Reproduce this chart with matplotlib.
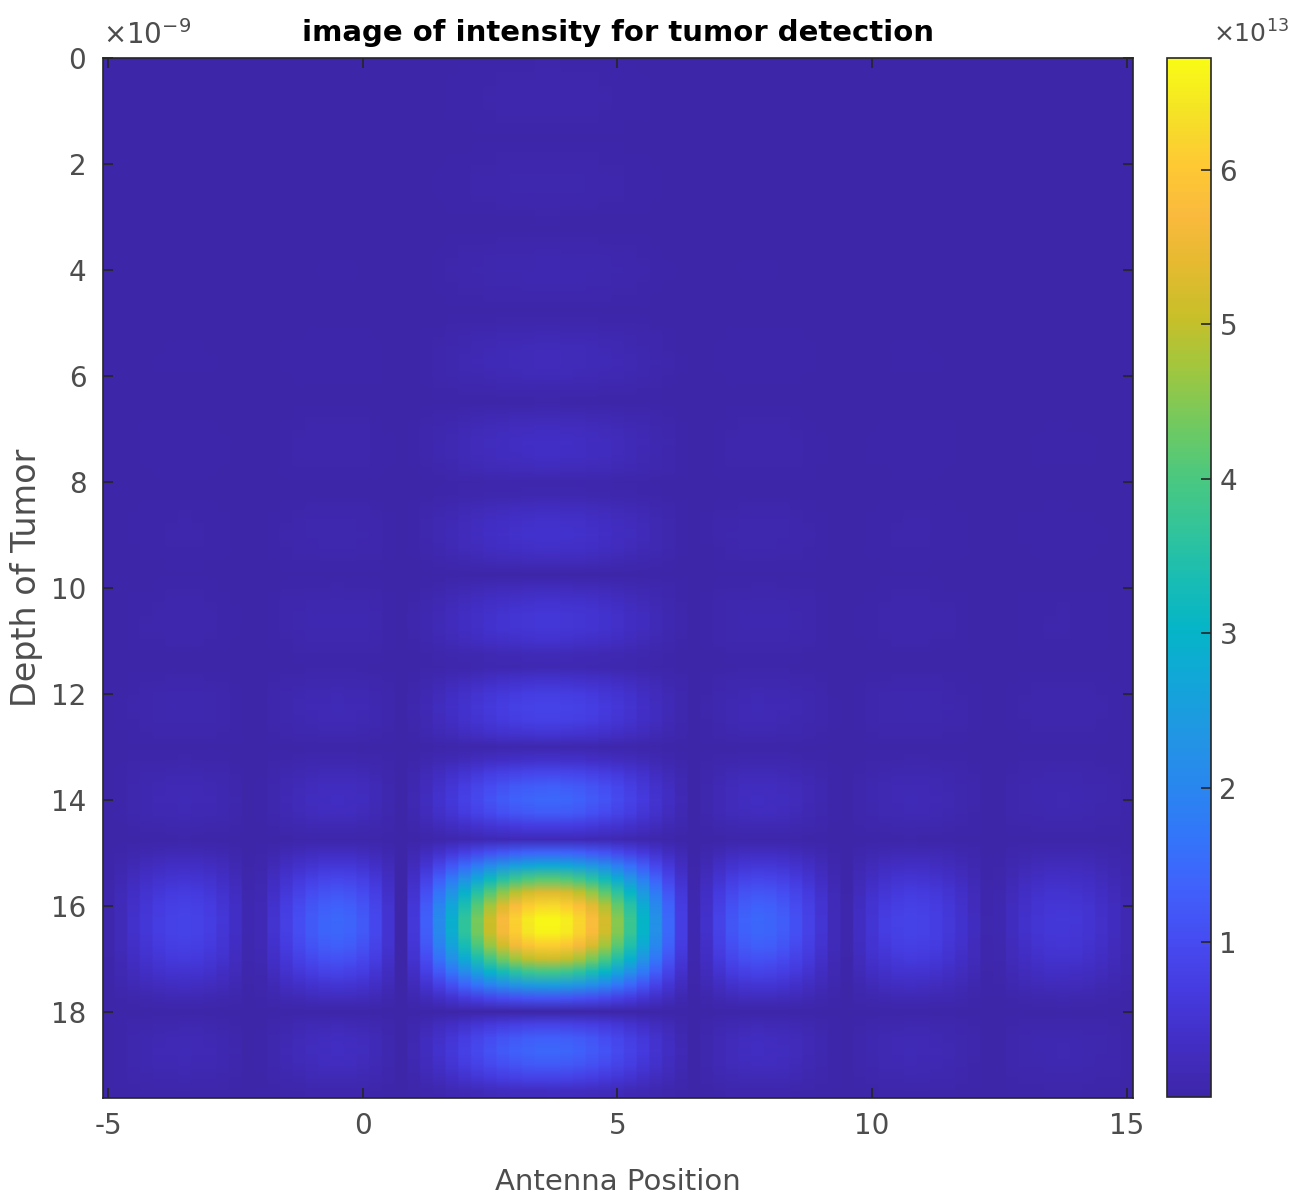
import numpy as np
import matplotlib
matplotlib.use("Agg")
from matplotlib import pyplot as plt
from matplotlib.colors import LinearSegmentedColormap

# antenna positions (one image column every 0.25)
antenna_pos = np.arange(-5, 15.01, 0.25)
# relative intensity across antenna position (read at the tumor depth row)
pos_profile = [0.01, 0.035, 0.064, 0.089, 0.110, 0.123, 0.128, 0.124, 0.110, 0.087,
               0.055, 0.017, 0.026, 0.072, 0.116, 0.156, 0.188, 0.210, 0.217, 0.209,
               0.184, 0.140, 0.078, 0.0, 0.093, 0.198, 0.312, 0.430, 0.547, 0.658,
               0.761, 0.849, 0.919, 0.969, 0.996, 0.998, 0.976, 0.931, 0.864, 0.779,
               0.679, 0.569, 0.453, 0.335, 0.220, 0.113, 0.017, 0.064, 0.126, 0.176,
               0.206, 0.217, 0.212, 0.193, 0.163, 0.124, 0.081, 0.035, 0.009, 0.048,
               0.082, 0.107, 0.122, 0.128, 0.125, 0.113, 0.094, 0.069, 0.041, 0.012,
               0.017, 0.043, 0.064, 0.080, 0.089, 0.091, 0.087, 0.077, 0.062, 0.043,
               0.022]

# depth rows (x1e-9), one every 0.25
depth = np.arange(0, 19.76, 0.25)
# relative intensity across depth (read at the main antenna column)
depth_profile = [0.004, 0.008, 0.010, 0.011, 0.010, 0.006, 0.0, 0.006, 0.010, 0.013,
                 0.013, 0.010, 0.004, 0.003, 0.010, 0.016, 0.019, 0.017, 0.011, 0.002,
                 0.010, 0.024, 0.034, 0.036, 0.029, 0.015, 0.004, 0.026, 0.044, 0.054,
                 0.051, 0.036, 0.011, 0.017, 0.044, 0.063, 0.069, 0.059, 0.034, 0.0,
                 0.037, 0.068, 0.087, 0.088, 0.067, 0.029, 0.021, 0.071, 0.110, 0.128,
                 0.118, 0.079, 0.015, 0.063, 0.139, 0.196, 0.217, 0.189, 0.105, 0.031,
                 0.211, 0.414, 0.617, 0.797, 0.928, 0.994, 0.986, 0.906, 0.764, 0.578,
                 0.372, 0.172, 0.0, 0.127, 0.199, 0.217, 0.187, 0.125, 0.047, 0.029]

peak = 6.72  # x10^13

# parula-like colormap
parula_pts = [(0.00, (0.2422, 0.1504, 0.6603)), (0.05, (0.2580, 0.1800, 0.7700)),
              (0.10, (0.2720, 0.2300, 0.8750)), (0.15, (0.2750, 0.2950, 0.9450)),
              (0.20, (0.2500, 0.3800, 0.9850)), (0.25, (0.2000, 0.4600, 0.9800)),
              (0.30, (0.1600, 0.5300, 0.9350)), (0.35, (0.1300, 0.5900, 0.8900)),
              (0.40, (0.0700, 0.6500, 0.8500)), (0.45, (0.0200, 0.7100, 0.7800)),
              (0.50, (0.1000, 0.7400, 0.7000)), (0.55, (0.2000, 0.7700, 0.6000)),
              (0.60, (0.3000, 0.7850, 0.4900)), (0.65, (0.4500, 0.7900, 0.3700)),
              (0.70, (0.6200, 0.7800, 0.2500)), (0.75, (0.7800, 0.7500, 0.1600)),
              (0.80, (0.8900, 0.7300, 0.1900)), (0.85, (0.9800, 0.7300, 0.2400)),
              (0.90, (0.9950, 0.7900, 0.2000)), (0.95, (0.9600, 0.8900, 0.1500)),
              (1.00, (0.9769, 0.9839, 0.0805))]
parula = LinearSegmentedColormap.from_list("parula", parula_pts, N=256)

plt.rcParams['font.family'] = ['DejaVu Sans']
plt.rcParams['axes.unicode_minus'] = False

img = np.outer(depth_profile, pos_profile) * peak
# repeat each column so the columns stay blocky while depth is smoothed
img_wide = np.repeat(img, 8, axis=1)

fig = plt.figure(figsize=(12.92, 11.94), dpi=100)
ax = fig.add_axes([0.0797, 0.0804, 0.7972, 0.871])
cax = fig.add_axes([0.9033, 0.0812, 0.0341, 0.870])

dx = 0.125
dy = 0.125
im = ax.imshow(img_wide, cmap=parula, aspect='auto', interpolation='bilinear',
               extent=[antenna_pos[0] - dx, antenna_pos[-1] + dx, depth[-1] + dy, depth[0] - dy],
               vmin=0.0, vmax=peak)
ax.set_xlim(-5.1, 15.12)
ax.set_ylim(19.63, 0)

gray = '#4d4d4d'
fs = 20
ax.set_xticks([-5, 0, 5, 10, 15])
ax.set_yticks(np.arange(0, 19, 2))
ax.tick_params(direction='in', length=7, width=1.2, top=True, right=True,
               labelsize=fs, labelcolor=gray, color='#262626')
ax.tick_params(axis='x', pad=10)
ax.tick_params(axis='y', pad=12)
for s in ax.spines.values():
    s.set_color('#262626')
    s.set_linewidth(1.2)

ax.set_title('image of intensity for tumor detection', fontsize=21, fontweight='bold', pad=12)
ax.set_xlabel('Antenna Position', fontsize=21, color=gray, labelpad=20)
ax.set_ylabel('Depth of Tumor', fontsize=24, color=gray, labelpad=6)
ax.text(0.0, 1.008, r'$\times$10$^{\mathregular{-9}}$', transform=ax.transAxes,
        fontsize=20, color=gray, ha='left', va='bottom')

cb = fig.colorbar(im, cax=cax)
cb.set_ticks([1, 2, 3, 4, 5, 6])
cb.ax.tick_params(direction='in', length=7, width=1.2, labelsize=fs, labelcolor=gray,
                  color='#262626', pad=6)
cb.outline.set_edgecolor('#262626')
cb.outline.set_linewidth(1.2)
cax.text(1.05, 1.01, r'$\times$10$^{\mathregular{13}}$', transform=cax.transAxes,
         fontsize=18, color=gray, ha='left', va='bottom')

fig.savefig('out.png', dpi=100)
